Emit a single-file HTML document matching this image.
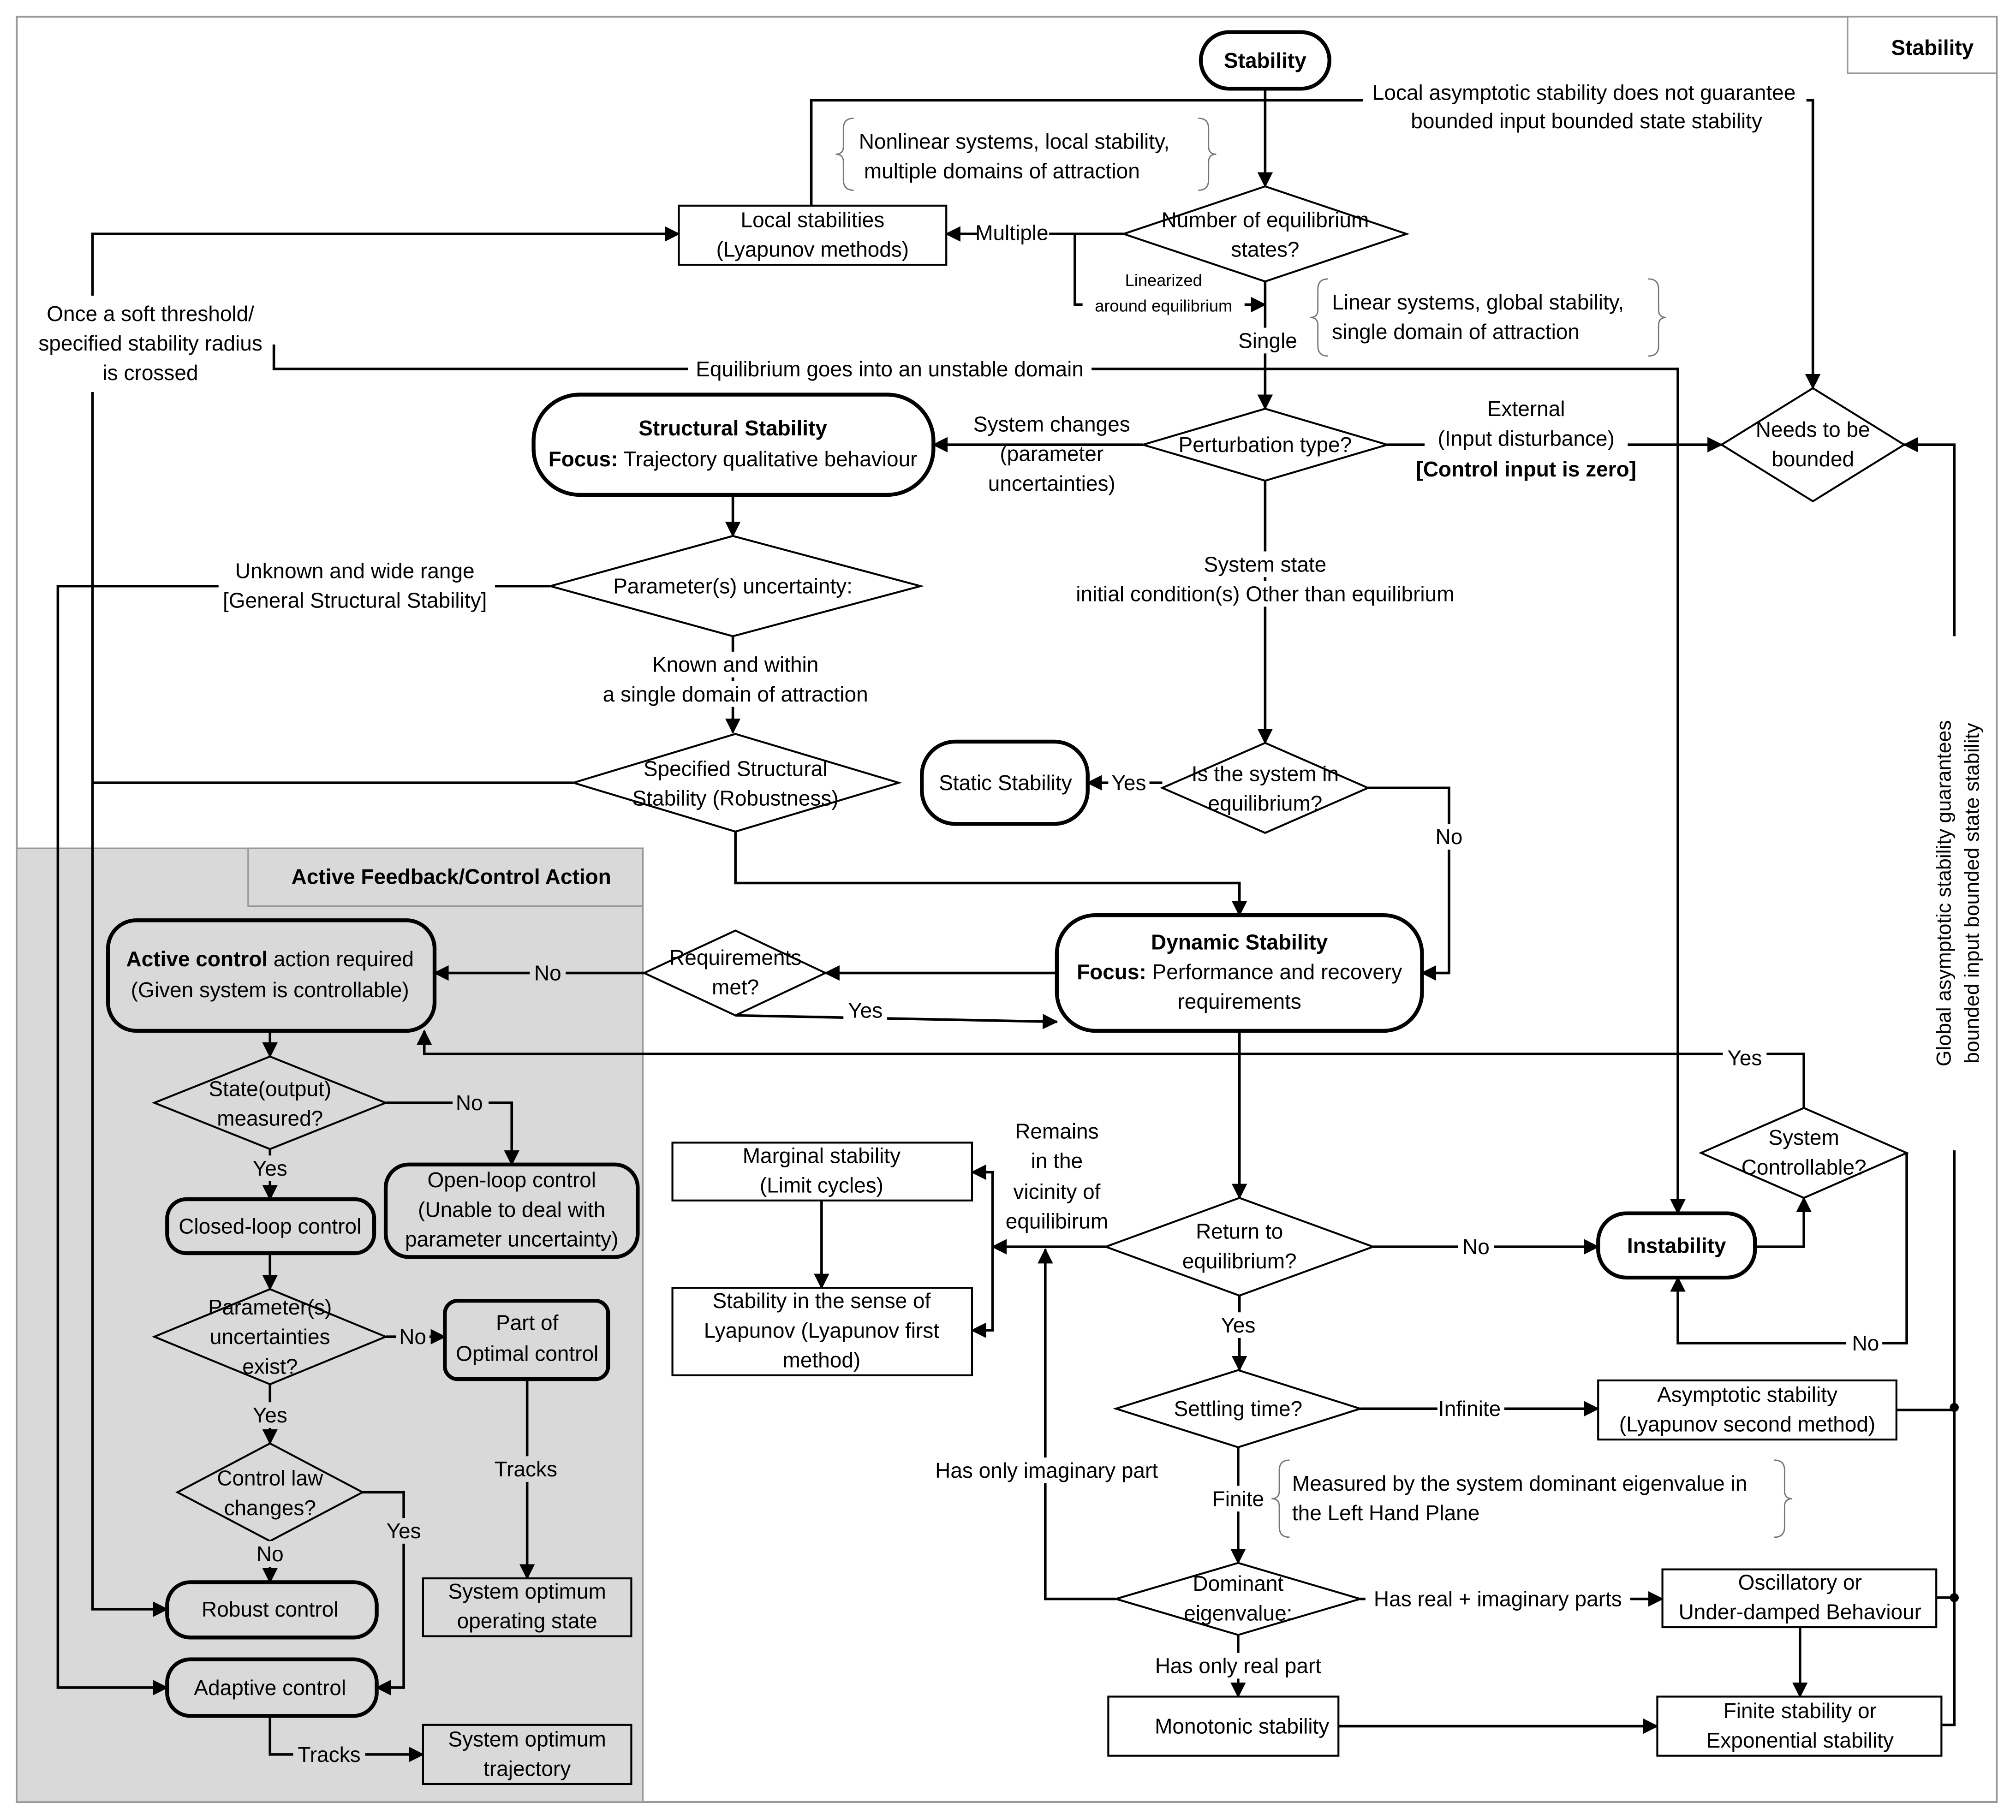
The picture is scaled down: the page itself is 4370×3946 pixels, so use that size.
<!DOCTYPE html>
<html><head><meta charset="utf-8"><style>
html,body{margin:0;padding:0;background:#fff}
svg{display:block}
text{font-family:"Liberation Sans Narrow","Liberation Sans",sans-serif;font-stretch:condensed;font-size:16.5px;fill:#000;text-anchor:middle;dominant-baseline:central}
.l{text-anchor:start}
.b{font-weight:bold}
.s{font-size:13px}
</style></head><body>
<svg width="4370" height="3946" viewBox="0 0 1568 1416" preserveAspectRatio="none" xmlns="http://www.w3.org/2000/svg">
<defs>
<marker id="a" markerUnits="userSpaceOnUse" markerWidth="12" markerHeight="12" refX="11" refY="6" orient="auto"><path d="M0,0 L12,6 L0,12 z" fill="#000"/></marker>
</defs>
<rect x="0" y="0" width="1568" height="1416" fill="#fff"/>
<rect x="13" y="13" width="1540" height="1389" fill="none" stroke="#999" stroke-width="1.5"/>
<rect x="1437" y="13" width="116" height="44" fill="#fff" stroke="#999" stroke-width="1.2"/>
<text x="1503" y="37" class="b">Stability</text>
<rect x="13" y="660" width="487" height="742" fill="#d9d9d9" stroke="#999" stroke-width="1.2"/>
<rect x="193" y="660" width="307" height="45" fill="#d9d9d9" stroke="#999" stroke-width="1.2"/>
<text x="351" y="682" class="b">Active Feedback/Control Action</text>

<g fill="none" stroke="#000" stroke-width="2">
<path d="M984,69 V145" marker-end="url(#a)"/>
<path d="M631,160 V78 H1060"/>
<path d="M1405,78 H1410 V302" marker-end="url(#a)"/>
<path d="M874,182 H736" marker-end="url(#a)"/>
<path d="M836,182 V237 H984" marker-end="url(#a)"/>
<path d="M984,219 V318" marker-end="url(#a)"/>
<path d="M213,268 V287 H1305 V944" marker-end="url(#a)"/>
<path d="M72,230 V182 H528" marker-end="url(#a)"/>
<path d="M72,305 V1252 H130" marker-end="url(#a)"/>
<path d="M170,456 H45 V1313 H130" marker-end="url(#a)"/>
<path d="M385,456 H428"/>
<path d="M72,609 H446"/>
<path d="M889,346 H726" marker-end="url(#a)"/>
<path d="M1079,346 H1339" marker-end="url(#a)"/>
<path d="M1520,495 V346 H1481" marker-end="url(#a)"/>
<path d="M1520,895 V1342 H1510"/>
<path d="M1475,1097 H1520 M1506,1243 H1520"/>
<path d="M570,385 V417" marker-end="url(#a)"/>
<path d="M570,495 V570" marker-end="url(#a)"/>
<path d="M572,647 V687 H964 V712" marker-end="url(#a)"/>
<path d="M984,374 V578" marker-end="url(#a)"/>
<path d="M904,609 H846" marker-end="url(#a)"/>
<path d="M1064,613 H1127 V757 H1106" marker-end="url(#a)"/>
<path d="M822,757 H642" marker-end="url(#a)"/>
<path d="M501,757 H338" marker-end="url(#a)"/>
<path d="M572,790 L822,795" marker-end="url(#a)"/>
<path d="M1403,862 V820 H330 V802" marker-end="url(#a)"/>
<path d="M964,802 V932" marker-end="url(#a)"/>
<path d="M860,970 H772" marker-end="url(#a)"/>
<path d="M772,970 V912 H756" marker-end="url(#a)"/>
<path d="M772,970 V1035 H756" marker-end="url(#a)"/>
<path d="M639,934 V1002" marker-end="url(#a)"/>
<path d="M1068,970 H1243" marker-end="url(#a)"/>
<path d="M1365,970 H1403 V932" marker-end="url(#a)"/>
<path d="M1483,897 V1045 H1305 V994" marker-end="url(#a)"/>
<path d="M964,1008 V1066" marker-end="url(#a)"/>
<path d="M1058,1096 H1243" marker-end="url(#a)"/>
<path d="M963,1126 V1216" marker-end="url(#a)"/>
<path d="M868,1244 H813 V972" marker-end="url(#a)"/>
<path d="M1058,1244 H1293" marker-end="url(#a)"/>
<path d="M1400,1266 V1320" marker-end="url(#a)"/>
<path d="M963,1272 V1320" marker-end="url(#a)"/>
<path d="M1041,1343 H1289" marker-end="url(#a)"/>
<path d="M210,802 V822" marker-end="url(#a)"/>
<path d="M300,858 H398 V906" marker-end="url(#a)"/>
<path d="M210,894 V933" marker-end="url(#a)"/>
<path d="M210,975 V1003" marker-end="url(#a)"/>
<path d="M300,1040 H346" marker-end="url(#a)"/>
<path d="M410,1073 V1228" marker-end="url(#a)"/>
<path d="M210,1077 V1123" marker-end="url(#a)"/>
<path d="M282,1161 H314 V1313 H293" marker-end="url(#a)"/>
<path d="M210,1199 V1231" marker-end="url(#a)"/>
<path d="M210,1335 V1365 H329" marker-end="url(#a)"/>
</g>
<circle cx="1520" cy="1095" r="3.5"/><circle cx="1520" cy="1243" r="3.5"/>

<g fill="none" stroke="#777" stroke-width="1">
<path d="M664,92 q-8,0 -8,8 v14 q0,6 -6,6 q6,0 6,6 v14 q0,8 8,8"/>
<path d="M932,92 q8,0 8,8 v14 q0,6 6,6 q-6,0 -6,6 v14 q0,8 -8,8"/>
<path d="M1033,217 q-8,0 -8,8 v16 q0,6 -6,6 q6,0 6,6 v16 q0,8 8,8"/>
<path d="M1282,217 q8,0 8,8 v16 q0,6 6,6 q-6,0 -6,6 v16 q0,8 -8,8"/>
<path d="M1003,1136 q-8,0 -8,8 v16 q0,6 -6,6 q6,0 6,6 v16 q0,8 8,8"/>
<path d="M1380,1136 q8,0 8,8 v16 q0,6 6,6 q-6,0 -6,6 v16 q0,8 -8,8"/>
</g>

<g stroke="#000" fill="#fff">
<rect x="934" y="25" width="100" height="44" rx="22" stroke-width="3"/>
<rect x="528" y="160" width="208" height="46" stroke-width="1.5"/>
<polygon points="984,145 1094,182 984,219 874,182" stroke-width="1.5"/>
<polygon points="984,318 1079,346 984,374 889,346" stroke-width="1.5"/>
<polygon points="1410,302 1481,346 1410,390 1339,346" stroke-width="1.5"/>
<rect x="415" y="307" width="311" height="78" rx="36" stroke-width="3"/>
<polygon points="570,417 716,456 570,495 428,456" stroke-width="1.5"/>
<polygon points="572,571 699,609 572,647 446,609" stroke-width="1.5"/>
<polygon points="984,578 1064,613 984,648 904,613" stroke-width="1.5"/>
<rect x="717" y="577" width="129" height="64" rx="26" stroke-width="3"/>
<rect x="822" y="712" width="284" height="90" rx="30" stroke-width="3"/>
<polygon points="572,724 642,757 572,790 501,757" stroke-width="1.5"/>
<rect x="523" y="889" width="233" height="45" stroke-width="1.5"/>
<rect x="523" y="1002" width="233" height="68" stroke-width="1.5"/>
<polygon points="964,932 1068,970 964,1008 860,970" stroke-width="1.5"/>
<rect x="1243" y="944" width="122" height="50" rx="22" stroke-width="3"/>
<polygon points="1403,862 1483,897 1403,932 1323,897" stroke-width="1.5"/>
<polygon points="963,1066 1058,1096 963,1126 868,1096" stroke-width="1.5"/>
<rect x="1243" y="1074" width="232" height="46" stroke-width="1.5"/>
<polygon points="963,1216 1058,1244 963,1272 868,1244" stroke-width="1.5"/>
<rect x="1293" y="1221" width="213" height="45" stroke-width="1.5"/>
<rect x="862" y="1320" width="179" height="46" stroke-width="1.5"/>
<rect x="1289" y="1320" width="221" height="46" stroke-width="1.5"/>
</g>
<g stroke="#000" fill="#d9d9d9">
<rect x="84" y="716" width="254" height="86" rx="22" stroke-width="3"/>
<polygon points="210,822 300,858 210,894 120,858" stroke-width="1.5"/>
<rect x="300" y="906" width="196" height="72" rx="18" stroke-width="3"/>
<rect x="130" y="933" width="161" height="42" rx="15" stroke-width="3"/>
<polygon points="210,1003 300,1040 210,1077 120,1040" stroke-width="1.5"/>
<rect x="346" y="1012" width="127" height="61" rx="10" stroke-width="3"/>
<rect x="329" y="1228" width="162" height="45" stroke-width="1.5"/>
<polygon points="210,1123 282,1161 210,1199 138,1161" stroke-width="1.5"/>
<rect x="130" y="1231" width="163" height="43" rx="18" stroke-width="3"/>
<rect x="130" y="1291" width="163" height="44" rx="18" stroke-width="3"/>
<rect x="329" y="1342" width="162" height="46" stroke-width="1.5"/>
</g>

<g fill="#fff">
<rect x="760" y="172" width="56" height="20"/>
<rect x="962" y="255" width="48" height="20"/>
<rect x="535" y="277" width="314" height="20"/>
<rect x="722" y="1134" width="184" height="20"/>
<rect x="1118" y="1086" width="52" height="20"/>
<rect x="1062" y="1234" width="206" height="20"/>
<rect x="938" y="1156" width="50" height="20"/>
<rect x="1134" y="960" width="28" height="20"/>
<rect x="1340" y="812" width="34" height="20"/>
<rect x="1436" y="1035" width="28" height="20"/>
<rect x="656" y="776" width="34" height="20"/>
<rect x="862" y="599" width="32" height="20"/>
<rect x="1112" y="641" width="30" height="20"/>
<rect x="1108" y="331" width="158" height="20"/>
<rect x="932" y="429" width="104" height="20"/>
<rect x="828" y="452" width="312" height="20"/>
<rect x="502" y="507" width="140" height="20"/>
<rect x="462" y="530" width="220" height="20"/>
<rect x="892" y="1286" width="144" height="20"/>
<rect x="866" y="209" width="78" height="18"/>
<rect x="842" y="229" width="126" height="16"/>
<rect x="946" y="1021" width="34" height="20"/>
</g>
<g fill="#d9d9d9">
<rect x="412" y="747" width="28" height="20"/>
<rect x="228" y="1355" width="56" height="20"/>
<rect x="352" y="848" width="28" height="20"/>
<rect x="194" y="899" width="32" height="20"/>
<rect x="308" y="1030" width="26" height="20"/>
<rect x="194" y="1091" width="32" height="20"/>
<rect x="196" y="1199" width="28" height="20"/>
<rect x="382" y="1133" width="56" height="20"/>
<rect x="298" y="1181" width="32" height="20"/>
</g>

<text x="984" y="47" class="b">Stability</text>
<text x="1232" y="72">Local asymptotic stability does not guarantee</text>
<text x="1234" y="94">bounded input bounded state stability</text>
<text x="668" y="110" class="l">Nonlinear systems, local stability,</text>
<text x="672" y="133" class="l">multiple domains of attraction</text>
<text x="632" y="171">Local stabilities</text>
<text x="632" y="194">(Lyapunov methods)</text>
<text x="787" y="181">Multiple</text>
<text x="984" y="171">Number of equilibrium</text>
<text x="984" y="194">states?</text>
<text x="905" y="218" class="s">Linearized</text>
<text x="905" y="238" class="s">around equilibrium</text>
<text x="1036" y="235" class="l">Linear systems, global stability,</text>
<text x="1036" y="258" class="l">single domain of attraction</text>
<text x="986" y="265">Single</text>
<text x="117" y="244">Once a soft threshold/</text>
<text x="117" y="267">specified stability radius</text>
<text x="117" y="290">is crossed</text>
<text x="692" y="287">Equilibrium goes into an unstable domain</text>
<text x="570" y="333" class="b">Structural Stability</text>
<text x="570" y="357"><tspan class="b">Focus:</tspan> Trajectory qualitative behaviour</text>
<text x="818" y="330">System changes</text>
<text x="818" y="353">(parameter</text>
<text x="818" y="376">uncertainties)</text>
<text x="984" y="346">Perturbation type?</text>
<text x="1187" y="318">External</text>
<text x="1187" y="341">(Input disturbance)</text>
<text x="1187" y="365" class="b">[Control input is zero]</text>
<text x="1410" y="334">Needs to be</text>
<text x="1410" y="357">bounded</text>
<text x="276" y="444">Unknown and wide range</text>
<text x="276" y="467">[General Structural Stability]</text>
<text x="570" y="456">Parameter(s) uncertainty:</text>
<text x="984" y="439">System state</text>
<text x="984" y="462">initial condition(s) Other than equilibrium</text>
<text x="572" y="517">Known and within</text>
<text x="572" y="540">a single domain of attraction</text>
<text x="572" y="598">Specified Structural</text>
<text x="572" y="621">Stability (Robustness)</text>
<text x="782" y="609">Static Stability</text>
<text x="878" y="609">Yes</text>
<text x="984" y="602">Is the system in</text>
<text x="984" y="625">equilibrium?</text>
<text x="1127" y="651">No</text>
<text x="964" y="733" class="b">Dynamic Stability</text>
<text x="964" y="756"><tspan class="b">Focus:</tspan> Performance and recovery</text>
<text x="964" y="779">requirements</text>
<text x="572" y="745">Requirements</text>
<text x="572" y="768">met?</text>
<text x="426" y="757">No</text>
<text x="673" y="786">Yes</text>
<text x="210" y="746"><tspan class="b">Active control</tspan> action required</text>
<text x="210" y="770">(Given system is controllable)</text>
<text x="1357" y="823">Yes</text>
<text x="210" y="847">State(output)</text>
<text x="210" y="870">measured?</text>
<text x="365" y="858">No</text>
<text x="210" y="909">Yes</text>
<text x="398" y="918">Open-loop control</text>
<text x="398" y="941">(Unable to deal with</text>
<text x="398" y="964">parameter uncertainty)</text>
<text x="210" y="954">Closed-loop control</text>
<text x="210" y="1017">Parameter(s)</text>
<text x="210" y="1040">uncertainties</text>
<text x="210" y="1063">exist?</text>
<text x="321" y="1040">No</text>
<text x="410" y="1029">Part of</text>
<text x="410" y="1053">Optimal control</text>
<text x="409" y="1143">Tracks</text>
<text x="410" y="1238">System optimum</text>
<text x="410" y="1261">operating state</text>
<text x="210" y="1101">Yes</text>
<text x="210" y="1150">Control law</text>
<text x="210" y="1173">changes?</text>
<text x="314" y="1191">Yes</text>
<text x="210" y="1209">No</text>
<text x="210" y="1252">Robust control</text>
<text x="210" y="1313">Adaptive control</text>
<text x="256" y="1365">Tracks</text>
<text x="410" y="1353">System optimum</text>
<text x="410" y="1376">trajectory</text>
<text x="822" y="880">Remains</text>
<text x="822" y="903">in the</text>
<text x="822" y="927">vicinity of</text>
<text x="822" y="950">equilibirum</text>
<text x="639" y="899">Marginal stability</text>
<text x="639" y="922">(Limit cycles)</text>
<text x="639" y="1012">Stability in the sense of</text>
<text x="639" y="1035">Lyapunov (Lyapunov first</text>
<text x="639" y="1058">method)</text>
<text x="964" y="958">Return to</text>
<text x="964" y="981">equilibrium?</text>
<text x="1148" y="970">No</text>
<text x="1304" y="969" class="b">Instability</text>
<text x="1403" y="885">System</text>
<text x="1403" y="908">Controllable?</text>
<text x="1451" y="1045">No</text>
<text x="963" y="1031">Yes</text>
<text x="963" y="1096">Settling time?</text>
<text x="1143" y="1096">Infinite</text>
<text x="1359" y="1085">Asymptotic stability</text>
<text x="1359" y="1108">(Lyapunov second method)</text>
<text x="963" y="1166">Finite</text>
<text x="1005" y="1154" class="l">Measured by the system dominant eigenvalue in</text>
<text x="1005" y="1177" class="l">the Left Hand Plane</text>
<text x="814" y="1144">Has only imaginary part</text>
<text x="963" y="1232">Dominant</text>
<text x="963" y="1255">eigenvalue:</text>
<text x="1165" y="1244">Has real + imaginary parts</text>
<text x="1400" y="1231">Oscillatory or</text>
<text x="1400" y="1254">Under-damped Behaviour</text>
<text x="963" y="1296">Has only real part</text>
<text x="966" y="1343">Monotonic stability</text>
<text x="1400" y="1331">Finite stability or</text>
<text x="1400" y="1354">Exponential stability</text>
<g transform="translate(1512,695) rotate(-90)"><text x="0" y="0" style="font-family:'Liberation Sans',sans-serif;font-stretch:normal;font-size:16px">Global asymptotic stability guarantees</text></g>
<g transform="translate(1534,695) rotate(-90)"><text x="0" y="0" style="font-family:'Liberation Sans',sans-serif;font-stretch:normal;font-size:16px">bounded input bounded state stability</text></g>
</svg>
</body></html>
